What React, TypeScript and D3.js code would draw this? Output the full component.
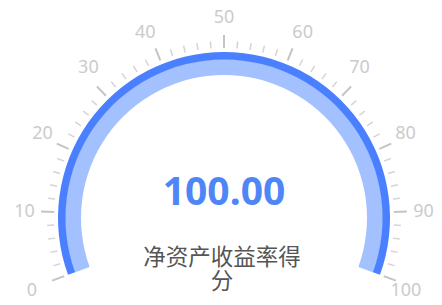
import React from "react";
import * as d3 from "d3";

const gaugeValue = 100;
const gaugeMin = 0;
const gaugeMax = 100;
const majorTicks = [0, 10, 20, 30, 40, 50, 60, 70, 80, 90, 100];
const minorTicks = d3.range(0, 101, 2).filter((v) => v % 10 !== 0);
const valueText = "100.00";
const titleLines = ["净资产收益率得", "分"];

const W = 442;
const H = 305;
const cx = 224;
const cy = 218;
const rOuter = 166;
const rDarkInner = 159;
const rInner = 143;
const tickStart = 170;
const majorLen = 13;
const minorLen = 7;
const labelR = 210;

export default function App() {
  const angle = d3
    .scaleLinear()
    .domain([gaugeMin, gaugeMax])
    .range([(-110 * Math.PI) / 180, (110 * Math.PI) / 180]);

  const lightArc = d3
    .arc()
    .innerRadius(rInner)
    .outerRadius(rDarkInner)
    .startAngle(angle(gaugeMin))
    .endAngle(angle(gaugeValue));
  const darkArc = d3
    .arc()
    .innerRadius(rDarkInner - 0.5)
    .outerRadius(rOuter)
    .startAngle(angle(gaugeMin))
    .endAngle(angle(gaugeValue));

  const pt = (v: number, r: number) => {
    const a = angle(v);
    return [cx + r * Math.sin(a), cy - r * Math.cos(a)];
  };

  return (
    <div style={{ position: "absolute", left: 0, top: 0 }}>
      <svg width={W} height={H} style={{ display: "block" }}>
        <rect width={W} height={H} fill="#fff" />
        <g transform={`translate(${cx},${cy})`}>
          <path d={lightArc({} as any) || ""} fill="#A3C0FF" />
          <path d={darkArc({} as any) || ""} fill="#4A80FF" />
        </g>
        {minorTicks.map((v) => {
          const [x1, y1] = pt(v, tickStart);
          const [x2, y2] = pt(v, tickStart + minorLen);
          return (
            <line key={"m" + v} x1={x1} y1={y1} x2={x2} y2={y2} stroke="#d4d4d4" strokeWidth={1.5} />
          );
        })}
        {majorTicks.map((v) => {
          const [x1, y1] = pt(v, tickStart);
          const [x2, y2] = pt(v, tickStart + majorLen);
          return (
            <line key={"M" + v} x1={x1} y1={y1} x2={x2} y2={y2} stroke="#c4c4c4" strokeWidth={2} />
          );
        })}
        {majorTicks.map((v) => {
          const a = angle(v);
          const ux = Math.sin(a);
          const uy = -Math.cos(a);
          const [x, y] = pt(v, labelR);
          const anchor = ux < -0.4 ? "start" : ux > 0.4 ? "end" : "middle";
          const dy = uy < -0.8 ? "0.83em" : uy > 0.8 ? "0em" : "0.36em";
          return (
            <text
              key={"l" + v}
              x={x}
              y={y}
              dy={dy}
              textAnchor={anchor}
              fontSize={18}
              fontFamily="'Noto Sans', sans-serif"
              fill="#cbcbcb"
            >
              {v}
            </text>
          );
        })}
        <text
          x={cx}
          y={205}
          textAnchor="middle"
          fontSize={39}
          fontWeight="bold"
          fontFamily="'Noto Sans', sans-serif"
          fill="#4F86F7"
        >
          {valueText}
        </text>
        {titleLines.map((t, i) => (
          <text
            key={"t" + i}
            x={222}
            y={255 + i * 24}
            dominantBaseline="central"
            textAnchor="middle"
            fontSize={22.5}
            fontFamily="'Noto Sans CJK SC', sans-serif"
            fill="#555"
          >
            {t}
          </text>
        ))}
      </svg>
    </div>
  );
}
